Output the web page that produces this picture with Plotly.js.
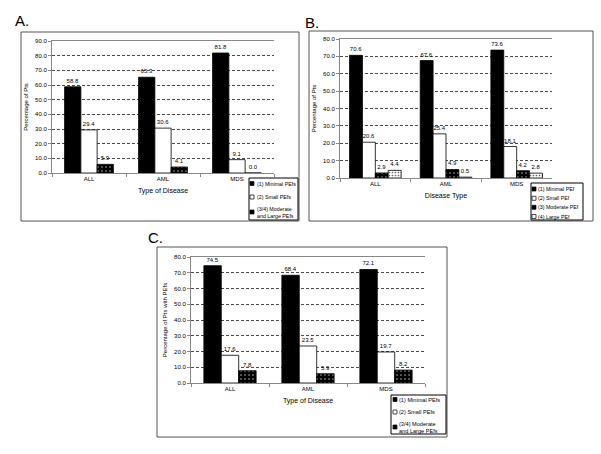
<!DOCTYPE html>
<html>
<head>
<meta charset="utf-8">
<script src="https://cdn.plot.ly/plotly-3.0.1.min.js"></script>
<style>html,body{margin:0;padding:0;background:#fff}#chart{width:601px;height:454px}</style>
</head>
<body>
<div id="chart"></div>
<script>
// ---- data ----
const categories = ["ALL", "AML", "MDS"];
// Panel A
const aMinimal = [58.8, 65.3, 81.8];
const aSmall = [29.4, 30.6, 9.1];
const aModLarge = [5.9, 4.1, 0.0];
// Panel B
const bMinimal = [70.6, 67.6, 73.6];
const bSmall = [20.6, 25.4, 18.1];
const bModerate = [2.9, 4.9, 4.2];
const bLarge = [4.4, 0.5, 2.8];
// Panel C
const cMinimal = [74.5, 68.4, 72.1];
const cSmall = [17.6, 23.5, 19.7];
const cModLarge = [7.8, 5.9, 8.2];
// labels
const legendA = ["(1) Minimal PEfs", "(2) Small PEfs", "(3/4) Moderate<br>and Large PEfs"];
const legendB = ["(1) Minimal PEf", "(2) Small PEf", "(3) Moderate PEf", "(4) Large PEf"];
const legendC = ["(1) Minimal PEfs", "(2) Small PEfs", "(3/4) Moderate<br>and Large PEfs"];

// ---- helpers ----
const W = 601, H = 454;
const px = x => x / W;
const py = y => 1 - y / H;
const FONT = "Liberation Sans, Arial, sans-serif";

const styles = {
  black: {color: "#000", line: {color: "#000", width: 0.8}},
  white: {color: "#fff", line: {color: "#000", width: 0.8}},
  dotDark: {color: "#000", line: {color: "#000", width: 0.8},
            pattern: {shape: ".", fgcolor: "#bbb", bgcolor: "#000", size: 4, solidity: 0.12}},
  dotLight: {color: "#fff", line: {color: "#000", width: 0.8},
             pattern: {shape: ".", fgcolor: "#666", bgcolor: "#fff", size: 3, solidity: 0.25}}
};

function barTrace(vals, name, xa, ya, i, n, g, style) {
  const w = g / n;
  return {
    type: "bar", x: categories, y: vals, name: name,
    xaxis: xa, yaxis: ya,
    width: w, offset: -g / 2 + i * w,
    marker: style,
    texttemplate: "%{y:.1f}", textposition: "outside",
    textfont: {size: 6, color: "#000", family: FONT},
    cliponaxis: false, showlegend: false, hoverinfo: "skip"
  };
}

const traces = [
  barTrace(aMinimal, legendA[0], "x", "y", 0, 3, 0.66, styles.black),
  barTrace(aSmall, legendA[1], "x", "y", 1, 3, 0.66, styles.white),
  barTrace(aModLarge, legendA[2], "x", "y", 2, 3, 0.66, styles.dotDark),
  barTrace(bMinimal, legendB[0], "x2", "y2", 0, 4, 0.73, styles.black),
  barTrace(bSmall, legendB[1], "x2", "y2", 1, 4, 0.73, styles.white),
  barTrace(bModerate, legendB[2], "x2", "y2", 2, 4, 0.73, styles.dotDark),
  barTrace(bLarge, legendB[3], "x2", "y2", 3, 4, 0.73, styles.dotLight),
  barTrace(cMinimal, legendC[0], "x3", "y3", 0, 3, 0.67, styles.black),
  barTrace(cSmall, legendC[1], "x3", "y3", 1, 3, 0.67, styles.white),
  barTrace(cModLarge, legendC[2], "x3", "y3", 2, 3, 0.67, styles.dotDark)
];

function xAxis(x0, x1, anchor, title) {
  return {
    domain: [px(x0), px(x1)], anchor: anchor, type: "category",
    showline: true, linecolor: "#888", linewidth: 1, mirror: true,
    ticks: "outside", tickson: "boundaries", ticklen: 3, tickcolor: "#888",
    tickfont: {size: 6, family: FONT, color: "#000"},
    title: {text: title, font: {size: 7, family: FONT, color: "#000"}, standoff: 6},
    fixedrange: true
  };
}
function yAxis(y0, y1, anchor, max, title) {
  return {
    domain: [py(y1), py(y0)], anchor: anchor, range: [0, max], dtick: 10,
    tickformat: ".1f", showline: true, linecolor: "#888", linewidth: 1,
    ticks: "outside", ticklen: 3, tickcolor: "#888",
    showgrid: true, gridcolor: "#000", gridwidth: 0.7, griddash: "3px,2px",
    zeroline: false,
    tickfont: {size: 6, family: FONT, color: "#000"},
    title: {text: title, font: {size: 6, family: FONT, color: "#000"}, standoff: 6},
    fixedrange: true
  };
}

const shapes = [];
const annotations = [];
function box(x0, y0, x1, y1, color, fill) {
  shapes.push({type: "rect", xref: "paper", yref: "paper",
    x0: px(x0), x1: px(x1), y0: py(y1), y1: py(y0),
    line: {color: color, width: 1}, fillcolor: fill || "rgba(0,0,0,0)"});
}
function label(txt, x, y, size) {
  annotations.push({text: txt, xref: "paper", yref: "paper", x: px(x), y: py(y),
    xanchor: "center", yanchor: "middle", showarrow: false,
    font: {size: size, family: FONT, color: "#000"}});
}
function legendBox(x0, y0, x1, y1, items, rowsY, swX, txX, swFills, fs) {
  box(x0, y0, x1, y1, "#000", "#fff");
  items.forEach((t, k) => {
    const yc = rowsY[k];
    shapes.push({type: "rect", xref: "paper", yref: "paper",
      x0: px(swX - 2), x1: px(swX + 2), y0: py(yc + 2), y1: py(yc - 2),
      line: {color: "#000", width: 0.7}, fillcolor: swFills[k]});
    annotations.push({text: t, xref: "paper", yref: "paper", x: px(txX), y: py(yc),
      xanchor: "left", yanchor: "middle", align: "left", showarrow: false,
      font: {size: fs, family: FONT, color: "#000"}});
  });
}

// outer frames
box(21, 32, 299, 221, "#555");
box(309, 31, 593, 221, "#555");
box(157, 247, 447, 437, "#555");
// panel letters
label("A.", 22, 20, 15);
label("B.", 312, 22, 15);
label("C.", 155, 238, 15);
// legends
legendBox(249, 178, 298, 220, legendA, [183.5, 197, 212], 252, 254.5, ["#000", "#fff", "#000"], 5.3);
legendBox(531, 183, 583, 220, legendB, [189, 198.3, 207.3, 216.5], 534, 535.5, ["#000", "#fff", "#000", "#fff"], 5.3);
legendBox(391, 395, 446, 434, legendC, [399.5, 412, 427], 395, 397, ["#000", "#fff", "#000"], 5.6);

const layout = {
  width: W, height: H,
  margin: {l: 0, r: 0, t: 0, b: 0},
  paper_bgcolor: "#fff", plot_bgcolor: "#fff",
  barmode: "overlay", showlegend: false,
  font: {family: FONT, color: "#000"},
  xaxis: xAxis(52, 274, "y", "Type of Disease"),
  yaxis: yAxis(41, 173, "x", 90, "Percentage of Pts"),
  xaxis2: xAxis(340, 552, "y2", "Disease Type"),
  yaxis2: yAxis(39, 178, "x2", 80, "Percentage of Pts"),
  xaxis3: xAxis(191, 425, "y3", "Type of Disease"),
  yaxis3: yAxis(257, 383, "x3", 80, "Percentage of Pts with PEfs"),
  shapes: shapes,
  annotations: annotations
};

Plotly.newPlot("chart", traces, layout, {staticPlot: true, displayModeBar: false});
</script>
</body>
</html>
